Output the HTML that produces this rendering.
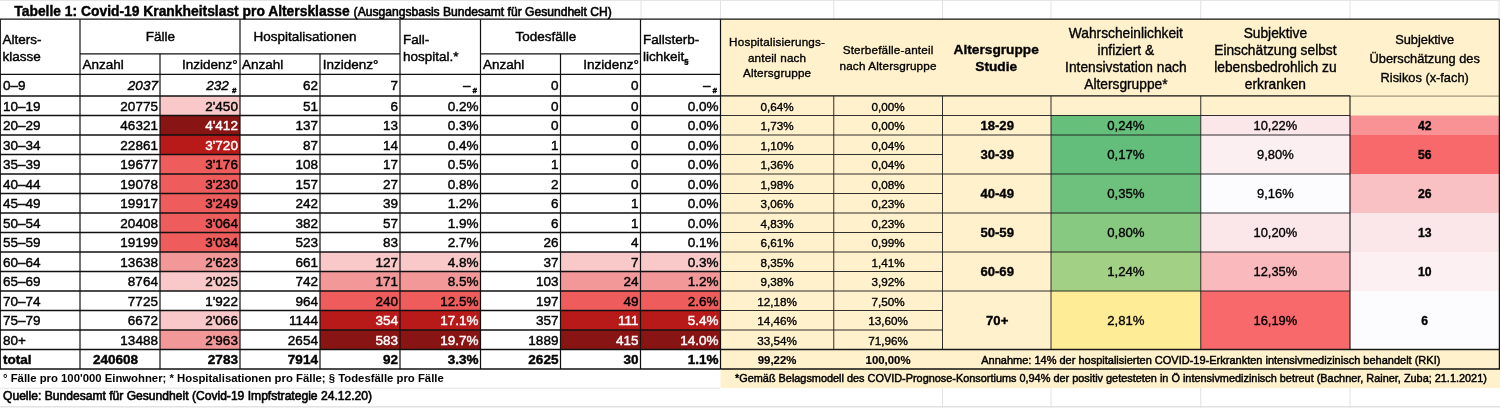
<!DOCTYPE html>
<html lang="de"><head><meta charset="utf-8"><title>Tabelle 1: Covid-19 Krankheitslast pro Altersklasse</title>
<style>
html,body{margin:0;padding:0;background:#fff}
#pg{position:relative;width:1500px;height:408px;overflow:hidden;background:#fff;font-family:'Liberation Sans', sans-serif;color:#000}
#pg svg{position:absolute;left:0;top:0}
.t{position:absolute;white-space:nowrap;height:20px;line-height:20px;font-size:13.5px;-webkit-text-stroke:0.42px currentColor}
.sb.ss{font-style:normal;margin-left:0}
.r{text-align:right}.c{text-align:center}.n{-webkit-text-stroke:0.35px currentColor}.z{-webkit-text-stroke:0}.h{letter-spacing:0.17px;-webkit-text-stroke:0.35px currentColor}.f{-webkit-text-stroke:0.6px currentColor}.g{-webkit-text-stroke:0.45px currentColor}.b{-webkit-text-stroke:0.15px currentColor}
.sb{font-size:7.8px;font-weight:bold;font-style:italic;position:relative;top:3.3px;margin-left:1px}
</style></head><body>
<div id="pg">
<svg width="1500" height="408" viewBox="0 0 1500 408">
<rect x="160.00" y="96.00" width="80.00" height="19.50" fill="#f9c9c9"/>
<rect x="160.00" y="115.50" width="80.00" height="19.50" fill="#881414"/>
<rect x="160.00" y="135.00" width="80.00" height="19.50" fill="#b81a1a"/>
<rect x="160.00" y="154.50" width="80.00" height="19.50" fill="#ee5c5c"/>
<rect x="160.00" y="174.00" width="80.00" height="19.50" fill="#ee5c5c"/>
<rect x="160.00" y="193.50" width="80.00" height="19.50" fill="#ee5c5c"/>
<rect x="160.00" y="213.00" width="80.00" height="19.50" fill="#ee5c5c"/>
<rect x="160.00" y="232.50" width="80.00" height="19.50" fill="#ee5c5c"/>
<rect x="160.00" y="252.00" width="80.00" height="19.50" fill="#f29898"/>
<rect x="320.00" y="252.00" width="160.50" height="19.50" fill="#f9c9c9"/>
<rect x="560.50" y="252.00" width="160.00" height="19.50" fill="#f9c9c9"/>
<rect x="160.00" y="271.50" width="80.00" height="19.50" fill="#f9c9c9"/>
<rect x="320.00" y="271.50" width="160.50" height="19.50" fill="#f29898"/>
<rect x="560.50" y="271.50" width="160.00" height="19.50" fill="#f29898"/>
<rect x="320.00" y="291.00" width="160.50" height="19.50" fill="#ee5c5c"/>
<rect x="560.50" y="291.00" width="160.00" height="19.50" fill="#ee5c5c"/>
<rect x="160.00" y="310.50" width="80.00" height="19.50" fill="#f9c9c9"/>
<rect x="320.00" y="310.50" width="160.50" height="19.50" fill="#b81a1a"/>
<rect x="560.50" y="310.50" width="160.00" height="19.50" fill="#b81a1a"/>
<rect x="160.00" y="330.00" width="80.00" height="19.50" fill="#f29898"/>
<rect x="320.00" y="330.00" width="160.50" height="19.50" fill="#881414"/>
<rect x="560.50" y="330.00" width="160.00" height="19.50" fill="#881414"/>
<rect x="720.50" y="19.15" width="779.50" height="349.85" fill="#fff1cc"/>
<rect x="720.50" y="369.00" width="779.50" height="19.00" fill="#fff1cc"/>
<rect x="1051.00" y="115.50" width="149.75" height="19.50" fill="#67bf7c"/>
<rect x="1200.75" y="115.50" width="149.25" height="19.50" fill="#fbe6e9"/>
<rect x="1350.00" y="115.50" width="149.40" height="19.50" fill="#f99294"/>
<rect x="1051.00" y="135.00" width="149.75" height="39.00" fill="#63be7b"/>
<rect x="1200.75" y="135.00" width="149.25" height="39.00" fill="#fceff2"/>
<rect x="1350.00" y="135.00" width="149.40" height="39.00" fill="#f8696b"/>
<rect x="1051.00" y="174.00" width="149.75" height="39.00" fill="#6ec17d"/>
<rect x="1200.75" y="174.00" width="149.25" height="39.00" fill="#fcfcff"/>
<rect x="1350.00" y="174.00" width="149.40" height="39.00" fill="#fac1c4"/>
<rect x="1051.00" y="213.00" width="149.75" height="39.00" fill="#88c981"/>
<rect x="1200.75" y="213.00" width="149.25" height="39.00" fill="#fbe6e9"/>
<rect x="1350.00" y="213.00" width="149.40" height="39.00" fill="#fbe7ea"/>
<rect x="1051.00" y="252.00" width="149.75" height="39.00" fill="#a2d186"/>
<rect x="1200.75" y="252.00" width="149.25" height="39.00" fill="#fab9bc"/>
<rect x="1350.00" y="252.00" width="149.40" height="39.00" fill="#fcf0f3"/>
<rect x="1051.00" y="291.00" width="149.75" height="58.50" fill="#ffec96"/>
<rect x="1200.75" y="291.00" width="149.25" height="58.50" fill="#f8696b"/>
<rect x="1350.00" y="291.00" width="149.40" height="58.50" fill="#fcfcff"/>
<line x1="641.00" y1="0.00" x2="641.00" y2="19.15" stroke="#e2e2e2" stroke-width="1.00"/>
<line x1="720.50" y1="0.00" x2="720.50" y2="19.15" stroke="#e2e2e2" stroke-width="1.00"/>
<line x1="833.75" y1="0.00" x2="833.75" y2="19.15" stroke="#e2e2e2" stroke-width="1.00"/>
<line x1="942.50" y1="0.00" x2="942.50" y2="19.15" stroke="#e2e2e2" stroke-width="1.00"/>
<line x1="1051.00" y1="0.00" x2="1051.00" y2="19.15" stroke="#e2e2e2" stroke-width="1.00"/>
<line x1="1200.75" y1="0.00" x2="1200.75" y2="19.15" stroke="#e2e2e2" stroke-width="1.00"/>
<line x1="1350.00" y1="0.00" x2="1350.00" y2="19.15" stroke="#e2e2e2" stroke-width="1.00"/>
<line x1="1499.00" y1="0.00" x2="1499.00" y2="19.15" stroke="#e2e2e2" stroke-width="1.00"/>
<line x1="942.50" y1="388.00" x2="942.50" y2="408.00" stroke="#e2e2e2" stroke-width="1.00"/>
<line x1="1051.00" y1="388.00" x2="1051.00" y2="408.00" stroke="#e2e2e2" stroke-width="1.00"/>
<line x1="1200.75" y1="388.00" x2="1200.75" y2="408.00" stroke="#e2e2e2" stroke-width="1.00"/>
<line x1="1350.00" y1="388.00" x2="1350.00" y2="408.00" stroke="#e2e2e2" stroke-width="1.00"/>
<line x1="0.00" y1="0.40" x2="1500.00" y2="0.40" stroke="#e2e2e2" stroke-width="1.00"/>
<line x1="0.00" y1="388.20" x2="720.00" y2="388.20" stroke="#e2e2e2" stroke-width="1.00"/>
<line x1="0.00" y1="406.70" x2="1500.00" y2="406.70" stroke="#e2e2e2" stroke-width="1.60"/>
<line x1="0.00" y1="19.15" x2="1499.40" y2="19.15" stroke="#111" stroke-width="1.40"/>
<line x1="80.00" y1="53.85" x2="400.00" y2="53.85" stroke="#111" stroke-width="1.40"/>
<line x1="480.50" y1="53.85" x2="640.50" y2="53.85" stroke="#111" stroke-width="1.40"/>
<line x1="0.00" y1="74.40" x2="720.50" y2="74.40" stroke="#111" stroke-width="1.40"/>
<line x1="0.00" y1="96.00" x2="720.50" y2="96.00" stroke="#111" stroke-width="1.40"/>
<line x1="0.00" y1="115.50" x2="720.50" y2="115.50" stroke="#111" stroke-width="1.40"/>
<line x1="0.00" y1="135.00" x2="720.50" y2="135.00" stroke="#111" stroke-width="1.40"/>
<line x1="0.00" y1="154.50" x2="720.50" y2="154.50" stroke="#111" stroke-width="1.40"/>
<line x1="0.00" y1="174.00" x2="720.50" y2="174.00" stroke="#111" stroke-width="1.40"/>
<line x1="0.00" y1="193.50" x2="720.50" y2="193.50" stroke="#111" stroke-width="1.40"/>
<line x1="0.00" y1="213.00" x2="720.50" y2="213.00" stroke="#111" stroke-width="1.40"/>
<line x1="0.00" y1="232.50" x2="720.50" y2="232.50" stroke="#111" stroke-width="1.40"/>
<line x1="0.00" y1="252.00" x2="720.50" y2="252.00" stroke="#111" stroke-width="1.40"/>
<line x1="0.00" y1="271.50" x2="720.50" y2="271.50" stroke="#111" stroke-width="1.40"/>
<line x1="0.00" y1="291.00" x2="720.50" y2="291.00" stroke="#111" stroke-width="1.40"/>
<line x1="0.00" y1="310.50" x2="720.50" y2="310.50" stroke="#111" stroke-width="1.40"/>
<line x1="0.00" y1="330.00" x2="720.50" y2="330.00" stroke="#111" stroke-width="1.40"/>
<line x1="0.00" y1="349.50" x2="720.50" y2="349.50" stroke="#111" stroke-width="1.40"/>
<line x1="0.00" y1="369.00" x2="720.50" y2="369.00" stroke="#111" stroke-width="1.40"/>
<line x1="0.30" y1="19.15" x2="0.30" y2="369.00" stroke="#111" stroke-width="1.20"/>
<line x1="80.00" y1="19.15" x2="80.00" y2="369.00" stroke="#111" stroke-width="1.20"/>
<line x1="160.00" y1="53.85" x2="160.00" y2="369.00" stroke="#111" stroke-width="1.20"/>
<line x1="240.00" y1="19.15" x2="240.00" y2="369.00" stroke="#111" stroke-width="1.20"/>
<line x1="320.00" y1="53.85" x2="320.00" y2="369.00" stroke="#111" stroke-width="1.20"/>
<line x1="400.00" y1="19.15" x2="400.00" y2="369.00" stroke="#111" stroke-width="1.20"/>
<line x1="480.50" y1="19.15" x2="480.50" y2="369.00" stroke="#111" stroke-width="1.20"/>
<line x1="560.50" y1="53.85" x2="560.50" y2="369.00" stroke="#111" stroke-width="1.20"/>
<line x1="640.50" y1="19.15" x2="640.50" y2="369.00" stroke="#111" stroke-width="1.20"/>
<line x1="720.50" y1="19.15" x2="720.50" y2="369.00" stroke="#111" stroke-width="1.20"/>
<line x1="720.50" y1="95.85" x2="1350.00" y2="95.85" stroke="#111" stroke-width="1.45"/>
<line x1="1350.00" y1="96.10" x2="1499.40" y2="96.10" stroke="#6b6650" stroke-width="0.80"/>
<line x1="833.75" y1="95.85" x2="833.75" y2="349.50" stroke="#1a1a1a" stroke-width="0.90"/>
<line x1="942.50" y1="95.85" x2="942.50" y2="349.50" stroke="#1a1a1a" stroke-width="0.90"/>
<line x1="1051.00" y1="95.85" x2="1051.00" y2="349.50" stroke="#1a1a1a" stroke-width="0.90"/>
<line x1="1200.75" y1="95.85" x2="1200.75" y2="349.50" stroke="#1a1a1a" stroke-width="0.90"/>
<line x1="1350.00" y1="95.85" x2="1350.00" y2="349.50" stroke="#111" stroke-width="1.10"/>
<line x1="1499.40" y1="19.15" x2="1499.40" y2="369.00" stroke="#111" stroke-width="1.30"/>
<line x1="720.50" y1="115.50" x2="942.50" y2="115.50" stroke="#1a1a1a" stroke-width="0.90"/>
<line x1="720.50" y1="135.00" x2="942.50" y2="135.00" stroke="#1a1a1a" stroke-width="0.90"/>
<line x1="720.50" y1="154.50" x2="942.50" y2="154.50" stroke="#1a1a1a" stroke-width="0.90"/>
<line x1="720.50" y1="174.00" x2="942.50" y2="174.00" stroke="#1a1a1a" stroke-width="0.90"/>
<line x1="720.50" y1="193.50" x2="942.50" y2="193.50" stroke="#1a1a1a" stroke-width="0.90"/>
<line x1="720.50" y1="213.00" x2="942.50" y2="213.00" stroke="#1a1a1a" stroke-width="0.90"/>
<line x1="720.50" y1="232.50" x2="942.50" y2="232.50" stroke="#1a1a1a" stroke-width="0.90"/>
<line x1="720.50" y1="252.00" x2="942.50" y2="252.00" stroke="#1a1a1a" stroke-width="0.90"/>
<line x1="720.50" y1="271.50" x2="942.50" y2="271.50" stroke="#1a1a1a" stroke-width="0.90"/>
<line x1="720.50" y1="291.00" x2="942.50" y2="291.00" stroke="#1a1a1a" stroke-width="0.90"/>
<line x1="720.50" y1="310.50" x2="942.50" y2="310.50" stroke="#1a1a1a" stroke-width="0.90"/>
<line x1="720.50" y1="330.00" x2="942.50" y2="330.00" stroke="#1a1a1a" stroke-width="0.90"/>
<line x1="942.50" y1="115.50" x2="1350.00" y2="115.50" stroke="#1a1a1a" stroke-width="0.90"/>
<line x1="942.50" y1="135.00" x2="1350.00" y2="135.00" stroke="#1a1a1a" stroke-width="0.90"/>
<line x1="942.50" y1="174.00" x2="1350.00" y2="174.00" stroke="#1a1a1a" stroke-width="0.90"/>
<line x1="942.50" y1="213.00" x2="1350.00" y2="213.00" stroke="#1a1a1a" stroke-width="0.90"/>
<line x1="942.50" y1="252.00" x2="1350.00" y2="252.00" stroke="#1a1a1a" stroke-width="0.90"/>
<line x1="942.50" y1="291.00" x2="1350.00" y2="291.00" stroke="#1a1a1a" stroke-width="0.90"/>
<line x1="720.50" y1="349.50" x2="1499.40" y2="349.50" stroke="#1a1a1a" stroke-width="1.30"/>
<line x1="720.50" y1="369.00" x2="1500.00" y2="369.00" stroke="#111" stroke-width="1.40"/>
</svg>
<div class="t" style="left:14.3px;top:0.6px;font-size:13.85px;font-weight:bold">Tabelle 1: Covid-19 Krankheitslast pro Altersklasse <span class='f' style='font-size:12.1px;font-weight:normal'>(Ausgangsbasis Bundesamt für Gesundheit CH)</span></div>
<div class="t z" style="left:3.0px;top:367.5px;font-size:11.33px;font-weight:bold">° Fälle pro 100'000 Einwohner; * Hospitalisationen pro Fälle; § Todesfälle pro Fälle</div>
<div class="t f" style="left:3.0px;top:386.0px;font-size:12.1px">Quelle: Bundesamt für Gesundheit (Covid-19 Impfstrategie 24.12.20)</div>
<div class="t" style="left:2.4px;top:29.7px">Alters-</div>
<div class="t" style="left:2.6px;top:46.7px">klasse</div>
<div class="t c" style="left:-239.6px;width:800px;top:27.3px">Fälle</div>
<div class="t c" style="left:-95.0px;width:800px;top:27.3px">Hospitalisationen</div>
<div class="t c" style="left:145.8px;width:800px;top:27.3px">Todesfälle</div>
<div class="t" style="left:82.5px;top:55.0px">Anzahl</div>
<div class="t r" style="right:1262.3px;top:55.0px">Inzidenz°</div>
<div class="t" style="left:242.0px;top:55.0px">Anzahl</div>
<div class="t" style="left:322.7px;top:55.0px">Inzidenz°</div>
<div class="t" style="left:403.0px;top:30.0px">Fall-</div>
<div class="t" style="left:403.0px;top:47.0px">hospital.*</div>
<div class="t" style="left:483.0px;top:55.0px">Anzahl</div>
<div class="t r" style="right:861.2px;top:55.0px">Inzidenz°</div>
<div class="t" style="left:643.0px;top:29.6px">Fallsterb-</div>
<div class="t" style="left:643.0px;top:47.0px">lichkeit<span class='sb ss'>§</span></div>
<div class="t" style="left:3.0px;top:76.1px">0–9</div>
<div class="t r" style="right:1342.1px;top:76.1px;font-style:italic">2037</div>
<div class="t r" style="right:1263.6px;top:76.1px;font-style:italic">232<span class='sb' style='margin-left:3.2px'>#</span></div>
<div class="t r" style="right:1182.1px;top:76.1px">62</div>
<div class="t r" style="right:1102.1px;top:76.1px">7</div>
<div class="t r" style="right:1023.1px;top:76.1px">–<span class='sb' style='margin-left:2px'>#</span></div>
<div class="t r" style="right:941.6px;top:76.1px">0</div>
<div class="t r" style="right:861.6px;top:76.1px">0</div>
<div class="t r" style="right:783.1px;top:76.1px">–<span class='sb' style='margin-left:2px'>#</span></div>
<div class="t" style="left:3.0px;top:96.7px">10–19</div>
<div class="t r" style="right:1342.1px;top:96.7px">20775</div>
<div class="t r" style="right:1262.1px;top:96.7px">2'450</div>
<div class="t r" style="right:1182.1px;top:96.7px">51</div>
<div class="t r" style="right:1102.1px;top:96.7px">6</div>
<div class="t r" style="right:1021.6px;top:96.7px">0.2%</div>
<div class="t r" style="right:941.6px;top:96.7px">0</div>
<div class="t r" style="right:861.6px;top:96.7px">0</div>
<div class="t r" style="right:781.6px;top:96.7px">0.0%</div>
<div class="t" style="left:3.0px;top:116.2px">20–29</div>
<div class="t r" style="right:1342.1px;top:116.2px">46321</div>
<div class="t r" style="right:1262.1px;top:116.2px;color:#fff">4'412</div>
<div class="t r" style="right:1182.1px;top:116.2px">137</div>
<div class="t r" style="right:1102.1px;top:116.2px">13</div>
<div class="t r" style="right:1021.6px;top:116.2px">0.3%</div>
<div class="t r" style="right:941.6px;top:116.2px">0</div>
<div class="t r" style="right:861.6px;top:116.2px">0</div>
<div class="t r" style="right:781.6px;top:116.2px">0.0%</div>
<div class="t" style="left:3.0px;top:135.7px">30–34</div>
<div class="t r" style="right:1342.1px;top:135.7px">22861</div>
<div class="t r" style="right:1262.1px;top:135.7px;color:#fff">3'720</div>
<div class="t r" style="right:1182.1px;top:135.7px">87</div>
<div class="t r" style="right:1102.1px;top:135.7px">14</div>
<div class="t r" style="right:1021.6px;top:135.7px">0.4%</div>
<div class="t r" style="right:941.6px;top:135.7px">1</div>
<div class="t r" style="right:861.6px;top:135.7px">0</div>
<div class="t r" style="right:781.6px;top:135.7px">0.0%</div>
<div class="t" style="left:3.0px;top:155.2px">35–39</div>
<div class="t r" style="right:1342.1px;top:155.2px">19677</div>
<div class="t r" style="right:1262.1px;top:155.2px">3'176</div>
<div class="t r" style="right:1182.1px;top:155.2px">108</div>
<div class="t r" style="right:1102.1px;top:155.2px">17</div>
<div class="t r" style="right:1021.6px;top:155.2px">0.5%</div>
<div class="t r" style="right:941.6px;top:155.2px">1</div>
<div class="t r" style="right:861.6px;top:155.2px">0</div>
<div class="t r" style="right:781.6px;top:155.2px">0.0%</div>
<div class="t" style="left:3.0px;top:174.7px">40–44</div>
<div class="t r" style="right:1342.1px;top:174.7px">19078</div>
<div class="t r" style="right:1262.1px;top:174.7px">3'230</div>
<div class="t r" style="right:1182.1px;top:174.7px">157</div>
<div class="t r" style="right:1102.1px;top:174.7px">27</div>
<div class="t r" style="right:1021.6px;top:174.7px">0.8%</div>
<div class="t r" style="right:941.6px;top:174.7px">2</div>
<div class="t r" style="right:861.6px;top:174.7px">0</div>
<div class="t r" style="right:781.6px;top:174.7px">0.0%</div>
<div class="t" style="left:3.0px;top:194.2px">45–49</div>
<div class="t r" style="right:1342.1px;top:194.2px">19917</div>
<div class="t r" style="right:1262.1px;top:194.2px">3'249</div>
<div class="t r" style="right:1182.1px;top:194.2px">242</div>
<div class="t r" style="right:1102.1px;top:194.2px">39</div>
<div class="t r" style="right:1021.6px;top:194.2px">1.2%</div>
<div class="t r" style="right:941.6px;top:194.2px">6</div>
<div class="t r" style="right:861.6px;top:194.2px">1</div>
<div class="t r" style="right:781.6px;top:194.2px">0.0%</div>
<div class="t" style="left:3.0px;top:213.7px">50–54</div>
<div class="t r" style="right:1342.1px;top:213.7px">20408</div>
<div class="t r" style="right:1262.1px;top:213.7px">3'064</div>
<div class="t r" style="right:1182.1px;top:213.7px">382</div>
<div class="t r" style="right:1102.1px;top:213.7px">57</div>
<div class="t r" style="right:1021.6px;top:213.7px">1.9%</div>
<div class="t r" style="right:941.6px;top:213.7px">6</div>
<div class="t r" style="right:861.6px;top:213.7px">1</div>
<div class="t r" style="right:781.6px;top:213.7px">0.0%</div>
<div class="t" style="left:3.0px;top:233.2px">55–59</div>
<div class="t r" style="right:1342.1px;top:233.2px">19199</div>
<div class="t r" style="right:1262.1px;top:233.2px">3'034</div>
<div class="t r" style="right:1182.1px;top:233.2px">523</div>
<div class="t r" style="right:1102.1px;top:233.2px">83</div>
<div class="t r" style="right:1021.6px;top:233.2px">2.7%</div>
<div class="t r" style="right:941.6px;top:233.2px">26</div>
<div class="t r" style="right:861.6px;top:233.2px">4</div>
<div class="t r" style="right:781.6px;top:233.2px">0.1%</div>
<div class="t" style="left:3.0px;top:252.6px">60–64</div>
<div class="t r" style="right:1342.1px;top:252.6px">13638</div>
<div class="t r" style="right:1262.1px;top:252.6px">2'623</div>
<div class="t r" style="right:1182.1px;top:252.6px">661</div>
<div class="t r" style="right:1102.1px;top:252.6px">127</div>
<div class="t r" style="right:1021.6px;top:252.6px">4.8%</div>
<div class="t r" style="right:941.6px;top:252.6px">37</div>
<div class="t r" style="right:861.6px;top:252.6px">7</div>
<div class="t r" style="right:781.6px;top:252.6px">0.3%</div>
<div class="t" style="left:3.0px;top:272.1px">65–69</div>
<div class="t r" style="right:1342.1px;top:272.1px">8764</div>
<div class="t r" style="right:1262.1px;top:272.1px">2'025</div>
<div class="t r" style="right:1182.1px;top:272.1px">742</div>
<div class="t r" style="right:1102.1px;top:272.1px">171</div>
<div class="t r" style="right:1021.6px;top:272.1px">8.5%</div>
<div class="t r" style="right:941.6px;top:272.1px">103</div>
<div class="t r" style="right:861.6px;top:272.1px">24</div>
<div class="t r" style="right:781.6px;top:272.1px">1.2%</div>
<div class="t" style="left:3.0px;top:291.6px">70–74</div>
<div class="t r" style="right:1342.1px;top:291.6px">7725</div>
<div class="t r" style="right:1262.1px;top:291.6px">1'922</div>
<div class="t r" style="right:1182.1px;top:291.6px">964</div>
<div class="t r" style="right:1102.1px;top:291.6px">240</div>
<div class="t r" style="right:1021.6px;top:291.6px">12.5%</div>
<div class="t r" style="right:941.6px;top:291.6px">197</div>
<div class="t r" style="right:861.6px;top:291.6px">49</div>
<div class="t r" style="right:781.6px;top:291.6px">2.6%</div>
<div class="t" style="left:3.0px;top:311.1px">75–79</div>
<div class="t r" style="right:1342.1px;top:311.1px">6672</div>
<div class="t r" style="right:1262.1px;top:311.1px">2'066</div>
<div class="t r" style="right:1182.1px;top:311.1px">1144</div>
<div class="t r" style="right:1102.1px;top:311.1px;color:#fff">354</div>
<div class="t r" style="right:1021.6px;top:311.1px;color:#fff">17.1%</div>
<div class="t r" style="right:941.6px;top:311.1px">357</div>
<div class="t r" style="right:861.6px;top:311.1px;color:#fff">111</div>
<div class="t r" style="right:781.6px;top:311.1px;color:#fff">5.4%</div>
<div class="t" style="left:3.0px;top:330.6px">80+</div>
<div class="t r" style="right:1342.1px;top:330.6px">13488</div>
<div class="t r" style="right:1262.1px;top:330.6px">2'963</div>
<div class="t r" style="right:1182.1px;top:330.6px">2654</div>
<div class="t r" style="right:1102.1px;top:330.6px;color:#fff">583</div>
<div class="t r" style="right:1021.6px;top:330.6px;color:#fff">19.7%</div>
<div class="t r" style="right:941.6px;top:330.6px">1889</div>
<div class="t r" style="right:861.6px;top:330.6px;color:#fff">415</div>
<div class="t r" style="right:781.6px;top:330.6px;color:#fff">14.0%</div>
<div class="t" style="left:3.0px;top:350.1px;font-weight:bold">total</div>
<div class="t r" style="right:1362.0px;top:350.1px;font-weight:bold">240608</div>
<div class="t r" style="right:1262.1px;top:350.1px;font-weight:bold">2783</div>
<div class="t r" style="right:1182.1px;top:350.1px;font-weight:bold">7914</div>
<div class="t r" style="right:1102.1px;top:350.1px;font-weight:bold">92</div>
<div class="t r" style="right:1021.6px;top:350.1px;font-weight:bold">3.3%</div>
<div class="t r" style="right:941.6px;top:350.1px;font-weight:bold">2625</div>
<div class="t r" style="right:861.6px;top:350.1px;font-weight:bold">30</div>
<div class="t r" style="right:781.6px;top:350.1px;font-weight:bold">1.1%</div>
<div class="t c h" style="left:377.1px;width:800px;top:32.3px;font-size:11.7px">Hospitalisierungs-</div>
<div class="t c h" style="left:377.1px;width:800px;top:47.6px;font-size:11.7px">anteil nach</div>
<div class="t c h" style="left:377.1px;width:800px;top:63.0px;font-size:11.7px">Altersgruppe</div>
<div class="t c h" style="left:488.1px;width:800px;top:40.1px;font-size:11.7px">Sterbefälle-anteil</div>
<div class="t c h" style="left:488.1px;width:800px;top:55.5px;font-size:11.7px">nach Altersgruppe</div>
<div class="t c n" style="left:596.2px;width:800px;top:39.6px;font-size:13.7px;font-weight:bold">Altersgruppe</div>
<div class="t c n" style="left:596.2px;width:800px;top:57.1px;font-size:13.7px;font-weight:bold">Studie</div>
<div class="t c n" style="left:725.9px;width:800px;top:23.9px;font-size:13.75px">Wahrscheinlichkeit</div>
<div class="t c n" style="left:725.9px;width:800px;top:40.9px;font-size:13.75px">infiziert &amp;</div>
<div class="t c n" style="left:725.9px;width:800px;top:57.9px;font-size:13.75px">Intensivstation nach</div>
<div class="t c n" style="left:725.9px;width:800px;top:74.9px;font-size:13.75px">Altersgruppe*</div>
<div class="t c n" style="left:875.4px;width:800px;top:23.9px;font-size:13.75px">Subjektive</div>
<div class="t c n" style="left:875.4px;width:800px;top:40.9px;font-size:13.75px">Einschätzung selbst</div>
<div class="t c n" style="left:875.4px;width:800px;top:57.9px;font-size:13.75px">lebensbedrohlich zu</div>
<div class="t c n" style="left:875.4px;width:800px;top:74.9px;font-size:13.75px">erkranken</div>
<div class="t c n" style="left:1024.7px;width:800px;top:29.9px;font-size:12.8px">Subjektive</div>
<div class="t c n" style="left:1024.7px;width:800px;top:49.1px;font-size:12.8px">Überschätzung des</div>
<div class="t c n" style="left:1024.7px;width:800px;top:67.9px;font-size:12.8px">Risikos (x-fach)</div>
<div class="t c n" style="left:377.1px;width:800px;top:96.5px;font-size:11.7px">0,64%</div>
<div class="t c n" style="left:488.1px;width:800px;top:96.5px;font-size:11.7px">0,00%</div>
<div class="t c n" style="left:377.1px;width:800px;top:116.0px;font-size:11.7px">1,73%</div>
<div class="t c n" style="left:488.1px;width:800px;top:116.0px;font-size:11.7px">0,00%</div>
<div class="t c n" style="left:377.1px;width:800px;top:135.6px;font-size:11.7px">1,10%</div>
<div class="t c n" style="left:488.1px;width:800px;top:135.6px;font-size:11.7px">0,04%</div>
<div class="t c n" style="left:377.1px;width:800px;top:155.1px;font-size:11.7px">1,36%</div>
<div class="t c n" style="left:488.1px;width:800px;top:155.1px;font-size:11.7px">0,04%</div>
<div class="t c n" style="left:377.1px;width:800px;top:174.6px;font-size:11.7px">1,98%</div>
<div class="t c n" style="left:488.1px;width:800px;top:174.6px;font-size:11.7px">0,08%</div>
<div class="t c n" style="left:377.1px;width:800px;top:194.1px;font-size:11.7px">3,06%</div>
<div class="t c n" style="left:488.1px;width:800px;top:194.1px;font-size:11.7px">0,23%</div>
<div class="t c n" style="left:377.1px;width:800px;top:213.6px;font-size:11.7px">4,83%</div>
<div class="t c n" style="left:488.1px;width:800px;top:213.6px;font-size:11.7px">0,23%</div>
<div class="t c n" style="left:377.1px;width:800px;top:233.1px;font-size:11.7px">6,61%</div>
<div class="t c n" style="left:488.1px;width:800px;top:233.1px;font-size:11.7px">0,99%</div>
<div class="t c n" style="left:377.1px;width:800px;top:252.6px;font-size:11.7px">8,35%</div>
<div class="t c n" style="left:488.1px;width:800px;top:252.6px;font-size:11.7px">1,41%</div>
<div class="t c n" style="left:377.1px;width:800px;top:272.1px;font-size:11.7px">9,38%</div>
<div class="t c n" style="left:488.1px;width:800px;top:272.1px;font-size:11.7px">3,92%</div>
<div class="t c n" style="left:377.1px;width:800px;top:291.6px;font-size:11.7px">12,18%</div>
<div class="t c n" style="left:488.1px;width:800px;top:291.6px;font-size:11.7px">7,50%</div>
<div class="t c n" style="left:377.1px;width:800px;top:311.1px;font-size:11.7px">14,46%</div>
<div class="t c n" style="left:488.1px;width:800px;top:311.1px;font-size:11.7px">13,60%</div>
<div class="t c n" style="left:377.1px;width:800px;top:330.6px;font-size:11.7px">33,54%</div>
<div class="t c n" style="left:488.1px;width:800px;top:330.6px;font-size:11.7px">71,96%</div>
<div class="t c b" style="left:377.1px;width:800px;top:350.1px;font-size:11.4px;font-weight:bold">99,22%</div>
<div class="t c b" style="left:488.1px;width:800px;top:350.1px;font-size:11.4px;font-weight:bold">100,00%</div>
<div class="t c n" style="left:597.2px;width:800px;top:116.2px;font-size:13.1px;font-weight:bold">18-29</div>
<div class="t c n" style="left:725.9px;width:800px;top:116.2px;font-size:13.2px">0,24%</div>
<div class="t c n" style="left:875.4px;width:800px;top:116.2px;font-size:12.9px">10,22%</div>
<div class="t c n" style="left:1024.7px;width:800px;top:116.2px;font-size:12.2px;font-weight:bold">42</div>
<div class="t c n" style="left:597.2px;width:800px;top:145.4px;font-size:13.1px;font-weight:bold">30-39</div>
<div class="t c n" style="left:725.9px;width:800px;top:145.4px;font-size:13.2px">0,17%</div>
<div class="t c n" style="left:875.4px;width:800px;top:145.4px;font-size:12.9px">9,80%</div>
<div class="t c n" style="left:1024.7px;width:800px;top:145.4px;font-size:12.2px;font-weight:bold">56</div>
<div class="t c n" style="left:597.2px;width:800px;top:184.4px;font-size:13.1px;font-weight:bold">40-49</div>
<div class="t c n" style="left:725.9px;width:800px;top:184.4px;font-size:13.2px">0,35%</div>
<div class="t c n" style="left:875.4px;width:800px;top:184.4px;font-size:12.9px">9,16%</div>
<div class="t c n" style="left:1024.7px;width:800px;top:184.4px;font-size:12.2px;font-weight:bold">26</div>
<div class="t c n" style="left:597.2px;width:800px;top:223.4px;font-size:13.1px;font-weight:bold">50-59</div>
<div class="t c n" style="left:725.9px;width:800px;top:223.4px;font-size:13.2px">0,80%</div>
<div class="t c n" style="left:875.4px;width:800px;top:223.4px;font-size:12.9px">10,20%</div>
<div class="t c n" style="left:1024.7px;width:800px;top:223.4px;font-size:12.2px;font-weight:bold">13</div>
<div class="t c n" style="left:597.2px;width:800px;top:262.4px;font-size:13.1px;font-weight:bold">60-69</div>
<div class="t c n" style="left:725.9px;width:800px;top:262.4px;font-size:13.2px">1,24%</div>
<div class="t c n" style="left:875.4px;width:800px;top:262.4px;font-size:12.9px">12,35%</div>
<div class="t c n" style="left:1024.7px;width:800px;top:262.4px;font-size:12.2px;font-weight:bold">10</div>
<div class="t c n" style="left:597.2px;width:800px;top:311.1px;font-size:13.1px;font-weight:bold">70+</div>
<div class="t c n" style="left:725.9px;width:800px;top:311.1px;font-size:13.2px">2,81%</div>
<div class="t c n" style="left:875.4px;width:800px;top:311.1px;font-size:12.9px">16,19%</div>
<div class="t c n" style="left:1024.7px;width:800px;top:311.1px;font-size:12.2px;font-weight:bold">6</div>
<div class="t c g" style="left:810.8px;width:800px;top:350.2px;font-size:11px">Annahme: 14% der hospitalisierten COVID-19-Erkrankten intensivmedizinisch behandelt (RKI)</div>
<div class="t g" style="left:735.0px;top:367.7px;font-size:10.9px">*Gemäß Belagsmodell des COVID-Prognose-Konsortiums 0,94% der positiv getesteten in Ö intensivmedizinisch betreut (Bachner, Rainer, Zuba; 21.1.2021)</div>
</div>
</body></html>
